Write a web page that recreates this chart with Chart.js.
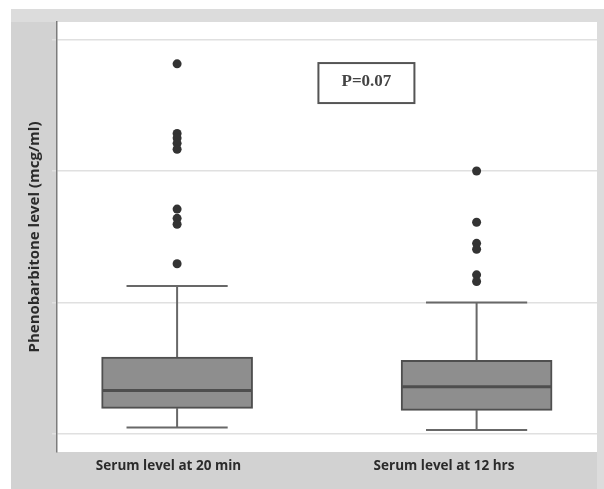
<!DOCTYPE html>
<html>
<head>
<meta charset="utf-8">
<script src="https://cdn.jsdelivr.net/npm/chart.js@4"></script>
<style>
  html, body { margin: 0; padding: 0; background: #ffffff; }
  canvas { display: block; }
</style>
</head>
<body>
<canvas id="c" width="604" height="489"></canvas>
<script>
// ---- data ----
const categories = ['Serum level at 20 min', 'Serum level at 12 hrs'];
const whiskerLow  = [1.0, 0.6];
const q1          = [3.9, 3.6];
const median      = [6.6, 7.2];
const q3          = [11.7, 11.2];
const whiskerHigh = [22.5, 20.0];
const outliers20min = [56.3, 45.7, 45.0, 44.2, 43.3, 34.2, 32.8, 31.9, 25.9];
const outliers12hrs = [40.0, 32.2, 29.0, 28.1, 24.2, 23.2];
const yTicks = [0, 20, 40, 60];
const yTitle = 'Phenobarbitone level (mcg/ml)';
const pValueText = 'P=0.07';

// ---- build datasets from the arrays ----
const boxData = categories.map((c, i) => ({ x: i + 1, y: [q1[i], q3[i]] }));
const outlierData = []
  .concat(outliers20min.map(v => ({ x: 1, y: v })))
  .concat(outliers12hrs.map(v => ({ x: 2, y: v })));

const frame = {
  id: 'frame',
  beforeDraw(chart) {
    const ctx = chart.ctx, a = chart.chartArea;
    ctx.save();
    ctx.fillStyle = '#ffffff';
    ctx.fillRect(0, 0, chart.width, chart.height);
    ctx.fillStyle = '#d2d2d2';
    ctx.fillRect(11, 9, chart.width - 11, chart.height - 9);
    ctx.fillStyle = '#dcdcdc';
    ctx.fillRect(11, 9, chart.width - 11, a.top - 9);
    ctx.fillRect(a.right, a.top, chart.width - a.right, chart.height - a.top);
    ctx.fillStyle = '#ffffff';
    ctx.fillRect(a.left, a.top, a.right - a.left, a.bottom - a.top);
    ctx.restore();
  }
};

const boxParts = {
  id: 'boxParts',
  beforeDatasetsDraw(chart) {
    const ctx = chart.ctx, y = chart.scales.y;
    const meta = chart.getDatasetMeta(0);
    ctx.save();
    ctx.strokeStyle = '#686868';
    ctx.lineWidth = 2;
    meta.data.forEach((bar, i) => {
      const cap = bar.width * 0.335;
      const yHi = y.getPixelForValue(whiskerHigh[i]);
      const yLo = y.getPixelForValue(whiskerLow[i]);
      ctx.beginPath();
      ctx.moveTo(bar.x, y.getPixelForValue(q3[i]));
      ctx.lineTo(bar.x, yHi);
      ctx.moveTo(bar.x - cap, yHi);
      ctx.lineTo(bar.x + cap, yHi);
      ctx.moveTo(bar.x, y.getPixelForValue(q1[i]));
      ctx.lineTo(bar.x, yLo);
      ctx.moveTo(bar.x - cap, yLo);
      ctx.lineTo(bar.x + cap, yLo);
      ctx.stroke();
    });
    ctx.restore();
  },
  afterDatasetsDraw(chart) {
    const ctx = chart.ctx, y = chart.scales.y, a = chart.chartArea;
    const meta = chart.getDatasetMeta(0);
    ctx.save();
    ctx.strokeStyle = '#4e4e4e';
    ctx.lineWidth = 3;
    meta.data.forEach((bar, i) => {
      const ym = y.getPixelForValue(median[i]);
      ctx.beginPath();
      ctx.moveTo(bar.x - bar.width / 2 + 1, ym);
      ctx.lineTo(bar.x + bar.width / 2 - 1, ym);
      ctx.stroke();
    });
    // P-value annotation box
    const cx = a.left + (a.right - a.left) * 0.573;
    const cy = a.top + (a.bottom - a.top) * 0.142;
    const w = 96, h = 40;
    ctx.fillStyle = '#ffffff';
    ctx.fillRect(cx - w / 2, cy - h / 2, w, h);
    ctx.strokeStyle = '#555555';
    ctx.lineWidth = 2;
    ctx.strokeRect(cx - w / 2, cy - h / 2, w, h);
    ctx.fillStyle = '#444444';
    ctx.font = 'bold 17px "Liberation Serif"';
    ctx.textAlign = 'center';
    ctx.textBaseline = 'middle';
    ctx.fillText(pValueText, cx, cy - 1);
    ctx.restore();
  }
};

new Chart(document.getElementById('c'), {
  type: 'bar',
  data: {
    datasets: [
      {
        type: 'bar',
        data: boxData,
        xAxisID: 'x',
        backgroundColor: '#8e8e8e',
        borderColor: '#4f4f4f',
        borderWidth: 2,
        borderSkipped: false,
        barThickness: 151
      },
      {
        type: 'scatter',
        data: outlierData,
        xAxisID: 'x',
        pointRadius: 4.5,
        pointBackgroundColor: '#333333',
        pointBorderColor: '#333333',
        pointBorderWidth: 0
      }
    ]
  },
  options: {
    responsive: false,
    devicePixelRatio: 1,
    animation: false,
    layout: { padding: { left: 0, top: 22, right: 7, bottom: 0 } },
    plugins: { legend: { display: false }, tooltip: { enabled: false } },
    scales: {
      x: {
        type: 'linear',
        display: false,
        min: 0.599,
        max: 2.402,
        offset: false
      },
      xl: {
        type: 'linear',
        position: 'bottom',
        min: 0.5953,
        max: 2.5554,
        offset: false,
        afterBuildTicks(s) { s.ticks = categories.map((c, i) => ({ value: i + 1 })); },
        afterFit(s) { s.height = 37; },
        grid: { display: false, drawTicks: false, offset: false },
        border: { display: false },
        ticks: {
          callback: v => categories[v - 1] || '',
          autoSkip: false,
          maxRotation: 0,
          padding: 6,
          color: '#2b2b2b',
          font: { family: '"Open Sans"', size: 13.5, weight: 'bold' }
        }
      },
      y: {
        type: 'linear',
        min: -2.74,
        max: 62.66,
        afterBuildTicks(s) { s.ticks = yTicks.map(v => ({ value: v })); },
        afterFit(s) { s.width = 57; },
        ticks: { display: false },
        grid: { color: '#e0e0e0', lineWidth: 1.5, drawTicks: true, tickLength: 5 },
        border: { display: true, color: '#7c7c7c', width: 1.5 },
        title: {
          display: true,
          text: yTitle,
          color: '#2b2b2b',
          padding: { top: 26, bottom: 0 },
          font: { family: '"Open Sans"', size: 15, weight: 'bold' }
        }
      }
    }
  },
  plugins: [frame, boxParts]
});
</script>
</body>
</html>
